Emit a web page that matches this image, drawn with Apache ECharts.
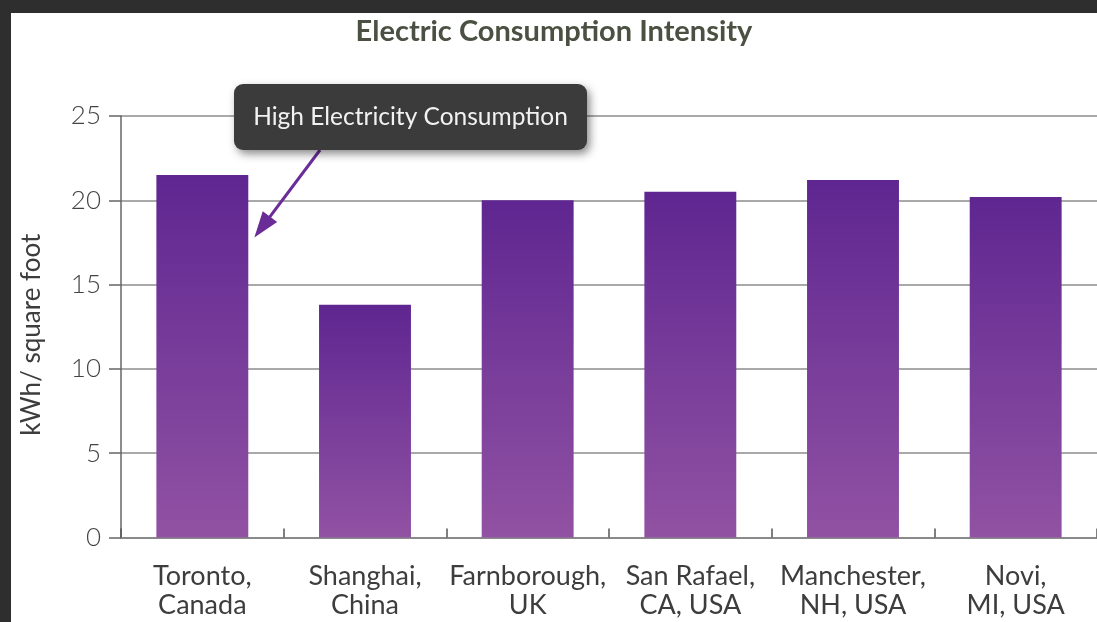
<!DOCTYPE html>
<html>
<head>
<meta charset="utf-8">
<script src="https://cdn.jsdelivr.net/npm/echarts@6/dist/echarts.min.js"></script>
<style>
  html, body { margin: 0; padding: 0; background: #2e2e2e; width: 1097px; height: 622px; overflow: hidden; }
  #chart { position: absolute; left: 11px; top: 13px; width: 1086px; height: 609px; background: #ffffff; }
</style>
</head>
<body>
<div id="chart"></div>
<script>
// Electricity use per floor area, by site
const categories = [
  'Toronto,\nCanada',
  'Shanghai,\nChina',
  'Farnborough,\nUK',
  'San Rafael,\nCA, USA',
  'Manchester,\nNH, USA',
  'Novi,\nMI, USA'
];
const intensity = [21.5, 13.8, 20.0, 20.5, 21.2, 20.2];
const yTicks = { min: 0, max: 25, interval: 5 };
const titleText = 'Electric Consumption Intensity';
const yAxisName = 'kWh/ square foot';
const calloutText = 'High Electricity Consumption';
const calloutValue = 17.8; // height on the Toronto bar the arrow points at

const chart = echarts.init(document.getElementById('chart'));
const labelFont = 'Lato';

chart.setOption({
  animation: false,
  backgroundColor: '#ffffff',
  title: {
    text: titleText,
    left: 'center',
    top: -1,
    textStyle: { fontFamily: labelFont, fontWeight: 'bold', fontSize: 29, color: '#4b5142' }
  },
  grid: { left: 106, top: 103, right: -9, bottom: 84.5, containLabel: false },
  xAxis: {
    type: 'category',
    data: categories,
    axisLine: { show: true, lineStyle: { color: '#8a8a8a', width: 2 } },
    axisTick: { show: true, inside: true, length: 9, alignWithLabel: false, lineStyle: { color: '#555', width: 1.5 } },
    axisLabel: {
      fontFamily: labelFont, fontWeight: 400, fontSize: 27, color: '#3d3d3d',
      lineHeight: 29, margin: 24, interval: 0
    }
  },
  yAxis: {
    type: 'value',
    min: yTicks.min, max: yTicks.max, interval: yTicks.interval,
    name: yAxisName,
    nameLocation: 'middle',
    nameRotate: 90,
    nameGap: 76,
    nameTextStyle: { fontFamily: labelFont, fontWeight: 400, fontSize: 26, color: '#3d3d3d', padding: [0, 16, 0, 0] },
    axisLine: { show: true, lineStyle: { color: '#666', width: 1.5 } },
    axisTick: { show: true, length: 12, lineStyle: { color: '#666', width: 1.5 } },
    axisLabel: { fontFamily: labelFont, fontWeight: 300, fontSize: 26, color: '#444', margin: 20 },
    splitLine: { show: true, lineStyle: { color: '#8c8c8c', width: 1.5 } }
  },
  series: [{
    type: 'bar',
    data: intensity,
    barWidth: '56.5%',
    itemStyle: {
      color: new echarts.graphic.LinearGradient(0, 0, 0, 1, [
        { offset: 0, color: '#5f2691' },
        { offset: 1, color: '#9152a3' }
      ])
    }
  }]
});

// Callout box with an arrow pointing at the Toronto bar
function drawCallout() {
  const base = chart.convertToPixel({ seriesIndex: 0 }, [0, calloutValue]);
  const tip = [base[0] + 52, base[1]];
  const boxX = 223, boxY = 71, boxW = 353, boxH = 66;
  const tail = [309, boxY + boxH];
  const dx = tip[0] - tail[0], dy = tip[1] - tail[1];
  const len = Math.sqrt(dx * dx + dy * dy);
  const ux = dx / len, uy = dy / len;
  const headLen = 26, headHalf = 9;
  const bx = tip[0] - ux * headLen, by = tip[1] - uy * headLen;
  const head = [
    tip,
    [bx - uy * headHalf, by + ux * headHalf],
    [bx + uy * headHalf, by - ux * headHalf]
  ];
  chart.setOption({
    graphic: [
      {
        type: 'line', z: 100,
        shape: { x1: tail[0], y1: tail[1], x2: bx + ux * 4, y2: by + uy * 4 },
        style: { stroke: '#6a2d98', lineWidth: 3 }
      },
      {
        type: 'polygon', z: 100,
        shape: { points: head },
        style: { fill: '#6a2d98' }
      },
      {
        type: 'rect', z: 101,
        shape: { x: boxX, y: boxY, width: boxW, height: boxH, r: 9 },
        style: {
          fill: '#3b3b3c',
          shadowBlur: 8, shadowOffsetX: 3, shadowOffsetY: 4,
          shadowColor: 'rgba(0,0,0,0.45)'
        }
      },
      {
        type: 'text', z: 102,
        x: boxX + boxW / 2, y: boxY + boxH / 2,
        style: {
          text: calloutText,
          fontFamily: labelFont, fontSize: 24.5, fill: '#f2f2f2',
          align: 'center', verticalAlign: 'middle'
        }
      }
    ]
  });
}
drawCallout();
</script>
</body>
</html>
